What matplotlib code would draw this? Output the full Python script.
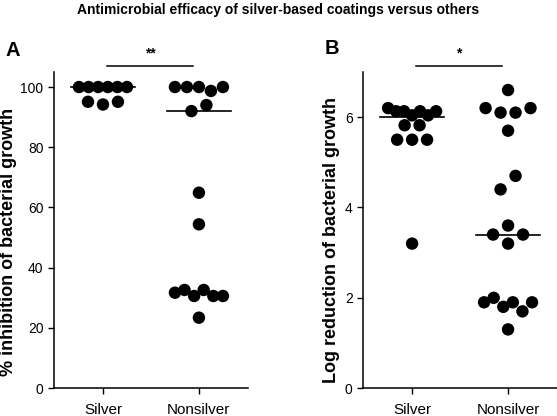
import numpy as np
import matplotlib
matplotlib.use("Agg")
import matplotlib.pyplot as plt

plt.rcParams['font.family'] = ['Liberation Sans', 'DejaVu Sans']

groups = ["Silver", "Nonsilver"]

# panel A: % inhibition of bacterial growth
inhib_silver = [100, 100, 100, 100, 100, 100, 95.1, 94.2, 95.1]
inhib_nonsilver = [100, 100, 100, 98.7, 100, 92, 94, 64.9, 54.4,
                   31.7, 32.6, 30.6, 32.6, 30.6, 30.6, 23.4]
inhib_lines = [100, 92]
inhib_sig = "**"

# panel B: log reduction of bacterial growth
logred_silver = [6.2, 6.13, 6.13, 6.04, 6.13, 6.04, 6.13, 5.82, 5.82, 5.5, 5.5, 5.5, 3.2]
logred_nonsilver = [6.6, 6.2, 6.1, 6.1, 6.2, 5.7, 4.4, 4.7, 3.4, 3.6, 3.4, 3.2,
                    1.9, 2.0, 1.8, 1.9, 1.7, 1.9, 1.3]
logred_lines = [6.0, 3.4]
logred_sig = "*"


def swarm_offsets(values, thr, step=0.156, half_width=0.25):
    """Spread points of similar value side by side (Prism-like column scatter)."""
    values = np.asarray(values, float)
    order = np.argsort(-values, kind="stable")
    offsets = np.zeros(len(values))
    i = 0
    while i < len(order):
        anchor = values[order[i]]
        j = i
        while j < len(order) and anchor - values[order[j]] < thr:
            j += 1
        row = np.sort(order[i:j])
        n = len(row)
        if n > 1:
            w = min((n - 1) * step / 2, half_width)
            offsets[row] = np.linspace(-w, w, n)
        i = j
    return offsets


def draw_panel(ax, data, lines, sig, ylim, yticks, ylabel, label_xy):
    thr = 0.044 * (ylim[1] - ylim[0])
    for k, vals in enumerate(data):
        x = k + swarm_offsets(vals, thr)
        ax.scatter(x, vals, s=80, color="black", edgecolors="none", zorder=3, clip_on=False)
        ax.plot([k - 0.33, k + 0.33], [lines[k], lines[k]], color="black", lw=1.2, zorder=2)

    ax.set_xlim(-0.51, 1.51)
    ax.set_ylim(ylim)
    ax.set_yticks(yticks)
    ax.set_xticks([0, 1])
    ax.set_xticklabels(groups, fontsize=11)
    ax.tick_params(axis="y", labelsize=10, length=4, width=1)
    ax.tick_params(axis="x", length=4, width=1, pad=7)
    ax.spines["top"].set_visible(False)
    ax.spines["right"].set_visible(False)
    ax.spines["left"].set_linewidth(1.1)
    ax.spines["bottom"].set_linewidth(1.1)
    ax.set_ylabel(ylabel, fontsize=13, fontweight="bold")
    ax.yaxis.set_label_coords(*label_xy)

    # significance bar
    tr = ax.get_xaxis_transform()
    ax.plot([0.04, 0.94], [1.019, 1.019], color="black", lw=1.1, transform=tr, clip_on=False)
    ax.text(0.49, 1.035, sig, transform=tr, ha="center", va="bottom", fontsize=10, fontweight="bold")


fig = plt.figure(figsize=(5.57, 4.16), dpi=100)
axA = fig.add_axes([0.097, 0.067, 0.348, 0.76])
axB = fig.add_axes([0.652, 0.067, 0.348, 0.76])

draw_panel(axA, [inhib_silver, inhib_nonsilver], inhib_lines, inhib_sig,
           (0, 105), [0, 20, 40, 60, 80, 100], "% inhibition of bacterial growth", (-0.19, 0.462))
draw_panel(axB, [logred_silver, logred_nonsilver], logred_lines, logred_sig,
           (0, 7), [0, 2, 4, 6], "Log reduction of bacterial growth", (-0.122, 0.47))

fig.text(0.009, 0.865, "A", fontsize=14.5, fontweight="bold", ha="left", va="baseline")
fig.text(0.583, 0.87, "B", fontsize=14.5, fontweight="bold", ha="left", va="baseline")
fig.text(0.5, 0.975, "Antimicrobial efficacy of silver-based coatings versus others",
         ha="center", va="center", fontsize=10, fontweight="bold")

fig.savefig("out.png", dpi=100)
plt.close()
